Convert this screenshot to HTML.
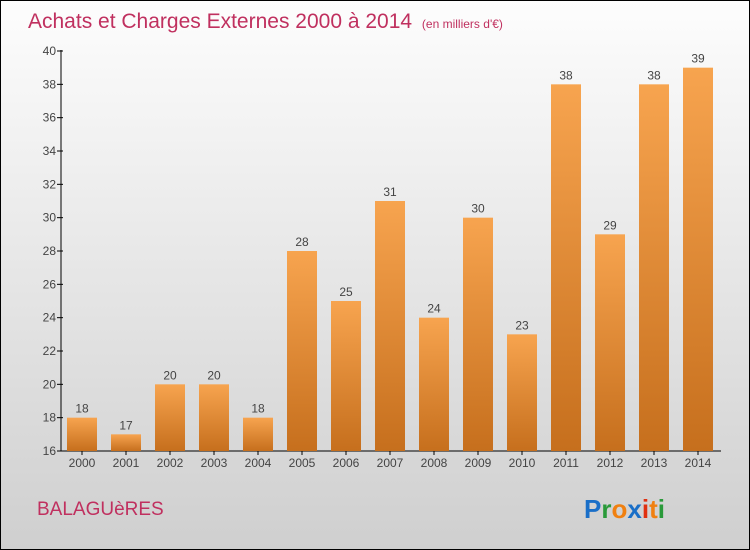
<!DOCTYPE html>
<html><head><meta charset="utf-8"><style>
body{margin:0}
#c{position:relative;width:748px;height:548px;border:1px solid #000;background:linear-gradient(#fdfdfd,#f4f4f4 20%,#cfcfcf);font-family:"Liberation Sans",sans-serif;overflow:hidden}
</style></head><body>
<div id="c">
<svg id="s" width="748" height="548" style="position:absolute;left:0;top:0">
<defs><linearGradient id="g" x1="0" y1="0" x2="0" y2="1"><stop offset="0" stop-color="#f7a44f"/><stop offset="1" stop-color="#c66f1d"/></linearGradient></defs>
<text x="27" y="27" font-size="21" fill="#c0305f">Achats et Charges Externes 2000 à 2014 <tspan font-size="12" dx="4">(en milliers d'€)</tspan></text>
<text x="36" y="514" font-size="19" fill="#c0305f">BALAGUèRES</text>
<g id="axes"></g><g id="bars"></g>
<text x="583" y="517" font-size="26" font-weight="bold"><tspan fill="#1a6fc8">P</tspan><tspan fill="#2a9a3a">r</tspan><tspan fill="#f08010">o</tspan><tspan fill="#1a6fc8">x</tspan><tspan fill="#e03010">i</tspan><tspan fill="#f08010">t</tspan><tspan fill="#2a9a3a">i</tspan></text>
</svg></div>
<script>
const years=["2000","2001","2002","2003","2004","2005","2006","2007","2008","2009","2010","2011","2012","2013","2014"];
const values=[18,17,20,20,18,28,25,31,24,30,23,38,29,38,39];
const yTicks=[16,18,20,22,24,26,28,30,32,34,36,38,40];
const NS="http://www.w3.org/2000/svg";
const y=v=>450-(v-16)*400/24;
const x=i=>81+i*44;
function mk(t,a,p,txt){const e=document.createElementNS(NS,t);for(const k in a)e.setAttribute(k,a[k]);if(txt!==undefined)e.textContent=txt;p.appendChild(e);return e;}
const ax=document.getElementById('axes'),bs=document.getElementById('bars');
let l=mk('line',{x1:60,y1:49,x2:60,y2:450,stroke:'#000'},ax);

l=mk('line',{x1:60,y1:450,x2:720,y2:450,stroke:'#000'},ax);

yTicks.forEach(v=>{
 mk('line',{x1:56,x2:62,y1:y(v),y2:y(v),stroke:'#000'},ax);
 const t=mk('text',{x:55,y:y(v)+4,'font-size':12,'text-anchor':'end',fill:'#444'},ax,v);
 
});
years.forEach((yr,i)=>{
 const r=mk('rect',{x:x(i)-15,y:y(values[i]),width:30,height:450-y(values[i]),fill:'url(#g)'},bs);
 
 const v=mk('text',{x:x(i),y:y(values[i])-5,'font-size':12,'text-anchor':'middle',fill:'#444'},bs,values[i]);
 
 mk('line',{x1:x(i),x2:x(i),y1:450,y2:454,stroke:'#000'},ax);
 const t=mk('text',{x:x(i),y:466,'font-size':12,'text-anchor':'middle',fill:'#444'},ax,yr);
 
});
</script>
</body></html>
